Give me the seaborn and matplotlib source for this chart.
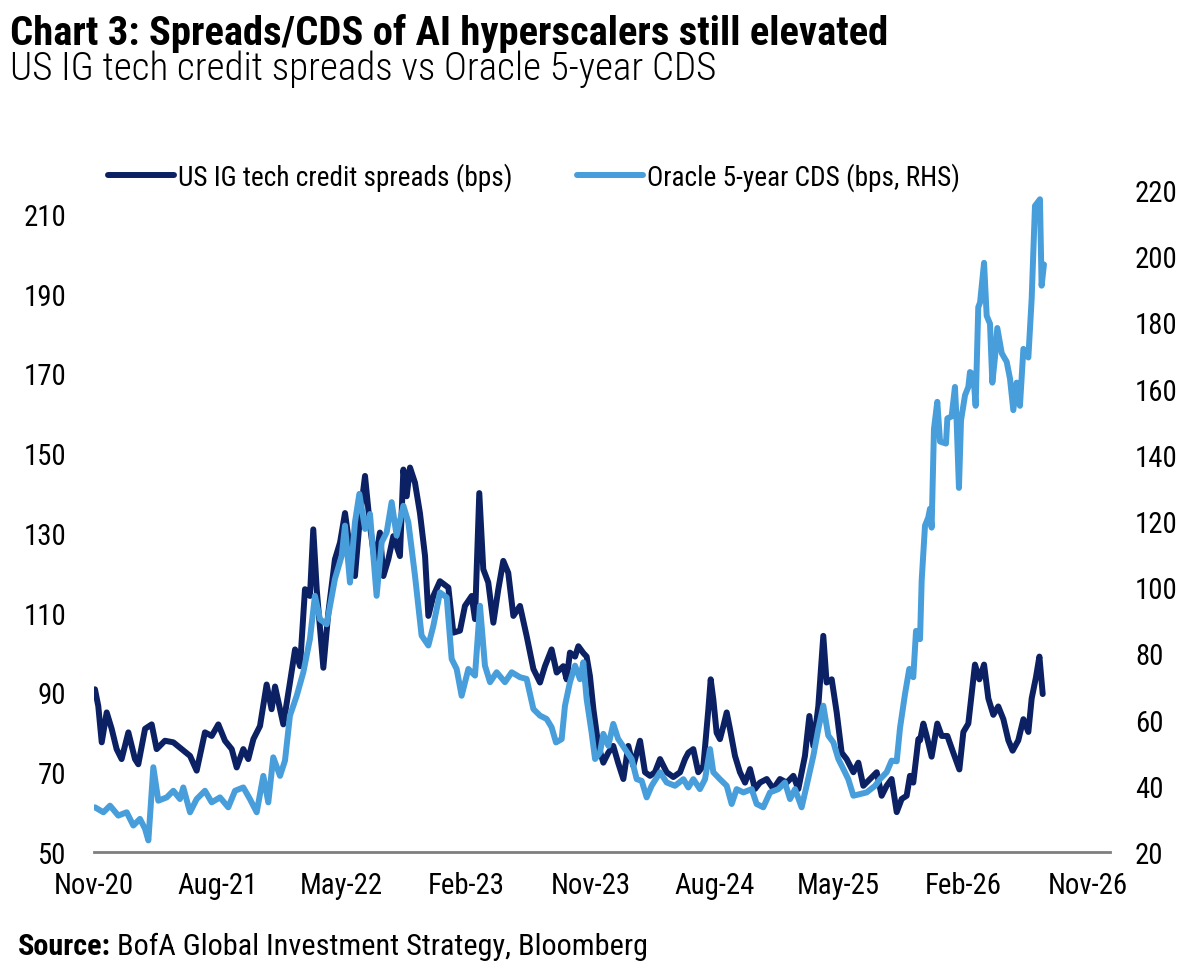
import matplotlib
matplotlib.use('Agg')
import matplotlib.pyplot as plt
import matplotlib.dates as mdates
import matplotlib.font_manager as fm
import seaborn as sns
import pandas as pd
import numpy as np

# months since 1 Nov 2020
ig_months = [0.07, 0.31, 0.56, 0.92, 1.28, 1.64, 2.00, 2.49, 2.97, 3.21,
             3.70, 4.18, 4.54, 5.14, 5.75, 6.35, 6.96, 7.44, 8.04, 8.53,
             9.01, 9.49, 9.98, 10.34, 10.82, 11.18, 11.55, 12.03, 12.51, 12.87,
             13.12, 13.72, 14.20, 14.57, 14.93, 15.29, 15.65, 15.89, 16.14, 16.62,
             16.98, 17.46, 17.83, 18.19, 18.55, 18.91, 19.28, 19.64, 20.00, 20.36,
             20.72, 20.97, 21.33, 21.69, 22.17, 22.42, 22.66, 22.90, 23.26, 23.62,
             23.99, 24.23, 24.59, 25.07, 25.68, 26.04, 26.52, 26.88, 27.37, 27.61,
             27.92, 28.21, 28.57, 28.94, 29.30, 29.66, 30.02, 30.39, 30.87, 31.35,
             31.84, 32.32, 32.68, 33.16, 33.53, 34.01, 34.25, 34.49,
             34.86, 35.10, 35.46, 35.70, 35.94, 36.19, 36.55, 36.91, 37.27, 37.63,
             37.98, 38.36, 38.72, 39.08, 39.57, 39.93, 40.29, 40.65, 41.02, 41.50,
             41.98, 42.47, 42.83, 43.07, 43.43, 43.79, 44.16, 44.52, 44.69, 44.88,
             45.12, 45.36, 45.61, 45.85, 46.09, 46.45, 46.81, 47.18, 47.54, 47.90,
             48.26, 48.75, 49.23, 49.71, 50.20, 50.68, 51.04, 51.52, 51.84, 52.13,
             52.49, 52.85, 53.09, 53.46, 53.82, 54.18, 54.54, 55.03, 55.39, 55.75,
             56.23, 56.72, 57.08, 57.44, 57.80, 58.17, 58.53, 58.89, 59.13, 59.37,
             59.74,
             59.86, 60.10, 60.34, 60.70, 61.11, 61.43, 61.84, 62.27, 62.71, 63.00,
             63.36, 63.60, 63.84, 64.16, 64.50, 64.81, 65.17, 65.53, 65.90, 66.26,
             66.57, 66.98, 67.35, 67.71, 67.95, 68.26, 68.51, 68.75]
ig_spread = [90.8, 86.6, 77.5, 85.0, 80.9, 75.8, 73.3, 80.0, 73.3, 72.0,
             80.9, 82.0, 75.8, 77.9, 77.5, 75.8, 74.1, 70.4, 80.0, 79.1,
             82.0, 77.9, 75.8, 71.2, 75.8, 73.3, 78.3, 81.6, 92.0, 85.8,
             91.5, 82.0, 92.5, 100.8, 96.6, 115.9, 114.2, 130.9, 115.9, 96.2,
             110.0, 123.4, 127.6, 135.0, 125.9, 119.2, 134.2, 144.3, 131.7, 122.6,
             130.1, 119.2, 123.4, 129.2, 124.2, 145.9, 139.2, 146.4, 142.6, 135.0,
             124.2, 109.2, 114.2, 117.9, 116.3, 105.0, 105.5, 111.7, 114.2, 108.4,
             140.0, 120.9, 117.6, 107.5, 115.9, 123.0, 120.0, 109.2, 111.7, 104.2,
             95.9, 92.5, 96.6, 100.8, 95.0, 96.6, 93.3, 100.0,
             99.0, 101.6, 99.9, 99.0, 94.1, 85.8, 76.6, 72.4, 74.9, 76.6,
             72.4, 68.3, 76.6, 71.6, 77.9, 70.0, 69.1, 70.0, 73.3, 70.0,
             68.8, 70.0, 73.3, 74.9, 75.8, 70.0, 71.6, 85.8, 93.3, 88.3,
             79.9, 78.3, 81.6, 85.0, 80.8, 74.1, 70.0, 67.4, 70.8, 65.8,
             67.4, 68.3, 65.8, 68.3, 67.4, 69.1, 65.8, 74.1, 84.1, 76.6,
             86.6, 104.2, 92.5, 93.3, 85.0, 74.9, 73.3, 70.0, 72.4, 66.6,
             68.3, 70.0, 64.1, 66.6, 68.3, 60.0, 63.3, 64.1, 69.1, 67.4,
             78.3,
             78.0, 82.2, 79.1, 73.9, 82.2, 79.1, 79.1, 74.9, 70.7, 80.1,
             82.2, 89.6, 97.0, 93.3, 97.0, 88.5, 84.4, 86.5, 83.3, 78.0,
             75.4, 78.0, 83.3, 80.1, 88.5, 93.8, 99.0, 89.6]

cds_months = [0.07, 0.68, 1.16, 1.76, 2.37, 2.85, 3.33, 3.70, 3.94, 4.30,
              4.66, 5.27, 5.75, 6.23, 6.47, 6.96, 7.44, 8.04, 8.53, 9.13,
              9.73, 10.22, 10.82, 11.30, 11.79, 12.27, 12.63, 12.99, 13.48, 13.84,
              14.20, 14.69, 15.17, 15.65, 16.01, 16.38, 16.86, 17.46, 17.95, 18.19,
              18.55, 18.91, 19.23, 19.64, 20.00, 20.48, 20.85, 21.21, 21.57, 21.93,
              22.42, 22.78, 23.26, 23.74, 24.23, 24.59, 25.07, 25.56, 25.92, 26.28,
              26.64, 27.13, 27.61, 27.97, 28.33, 28.70, 29.18, 29.78, 30.27, 30.87,
              31.35, 31.84, 32.32, 32.80, 33.16, 33.48, 33.89, 34.13, 34.49,
              34.86, 35.22, 35.46, 35.70, 36.06, 36.31, 36.67, 36.91, 37.27, 37.63,
              37.98, 38.48, 38.96, 39.33, 39.69, 40.05, 40.41, 41.02, 41.50, 42.10,
              42.71, 43.07, 43.43, 43.91, 44.28, 44.64, 44.88, 45.36, 45.85, 46.21,
              46.57, 47.06, 47.66, 48.02, 48.50, 48.99, 49.59, 50.07, 50.44, 50.80,
              51.28, 51.64, 52.13, 52.49, 52.85, 53.21, 53.58, 53.94, 54.30, 54.66,
              55.03, 55.51, 55.99, 56.60, 56.96, 57.44, 57.80,
              58.17, 58.41, 58.77, 59.08, 59.37, 59.57, 59.86, 59.98, 60.22, 60.46,
              60.58, 60.70, 60.87, 61.11, 61.31, 61.74, 61.84, 62.15, 62.39, 62.51,
              62.68, 62.83, 63.12, 63.36, 63.48, 63.72, 63.89, 64.08, 64.21, 64.50,
              64.69, 64.93, 65.10, 65.29, 65.46, 65.78, 66.14, 66.38, 66.62, 66.86,
              67.10, 67.35, 67.71, 67.95, 68.19, 68.43, 68.55, 68.67, 68.84]
oracle_cds = [33.5, 32.0, 34.0, 31.0, 32.0, 28.0, 30.0, 27.0, 23.5, 45.6,
              35.5, 36.5, 38.5, 36.0, 39.5, 32.0, 36.0, 38.5, 35.0, 36.5,
              33.5, 38.5, 39.5, 36.0, 32.0, 43.0, 35.0, 48.6, 43.0, 47.6,
              61.2, 67.2, 74.3, 84.4, 97.4, 90.3, 88.8, 102.5, 109.5, 118.6,
              101.4, 119.6, 128.2, 117.6, 122.1, 97.4, 113.6, 116.6, 125.7, 115.6,
              124.6, 119.6, 103.5, 85.4, 82.4, 88.3, 98.4, 96.9, 78.3, 75.3,
              67.2, 75.3, 73.3, 94.4, 76.3, 71.3, 74.3, 71.3, 74.3, 72.8,
              72.3, 63.2, 61.2, 60.2, 57.7, 53.1, 54.1, 64.2, 71.3,
              76.3, 72.2, 77.3, 66.2, 56.1, 48.1, 50.1, 55.7, 52.1, 58.7,
              54.2, 51.1, 48.1, 42.0, 41.5, 36.5, 40.0, 44.1, 41.0, 40.0,
              42.0, 39.5, 42.0, 39.0, 42.0, 51.1, 44.1, 42.0, 40.0, 34.5,
              39.0, 38.0, 39.0, 34.5, 33.5, 38.0, 39.0, 41.0, 36.0, 39.0,
              33.5, 40.0, 49.1, 57.2, 64.2, 55.2, 53.1, 48.1, 45.1, 42.0,
              37.0, 37.5, 38.0, 40.0, 42.0, 44.1, 47.6,
              47.4, 57.5, 67.7, 75.3, 72.8, 86.8, 84.3, 102.1, 118.6, 121.1,
              123.7, 118.0, 147.8, 156.0, 144.0, 143.4, 151.0, 151.6, 160.5, 150.4,
              130.0, 150.4, 158.0, 160.5, 165.0, 164.3, 154.8, 184.6, 186.0, 198.0,
              182.0, 179.6, 161.8, 169.4, 178.3, 170.7, 168.1, 163.0, 153.5, 161.8,
              154.8, 172.0, 169.4, 187.2, 215.2, 216.5, 217.2, 191.1, 197.5]

left_ticks = [50, 70, 90, 110, 130, 150, 170, 190, 210]
right_ticks = [20, 40, 60, 80, 100, 120, 140, 160, 180, 200, 220]

title = 'Chart 3: Spreads/CDS of AI hyperscalers still elevated'
subtitle = 'US IG tech credit spreads vs Oracle 5-year CDS'
ig_label = 'US IG tech credit spreads (bps)'
cds_label = 'Oracle 5-year CDS (bps, RHS)'
source_head = 'Source:'
source_body = 'BofA Global Investment Strategy, Bloomberg'

DARK = '#0B2163'
LIGHT = '#479EDA'

start = pd.Timestamp('2020-11-01')
ig = pd.DataFrame({'date': start + pd.to_timedelta(np.array(ig_months) * 30.4375, unit='D'),
                   'value': ig_spread})
cds = pd.DataFrame({'date': start + pd.to_timedelta(np.array(cds_months) * 30.4375, unit='D'),
                    'value': oracle_cds})

sns.set_theme(style='white')

# the reference uses a condensed sans; take one if the machine has it
family, stretch = 'DejaVu Sans', 'normal'
names = {f.name: f.stretch for f in fm.fontManager.ttflist}
for cand in ['Liberation Sans Narrow', 'Roboto Condensed', 'Open Sans Condensed',
             'Noto Sans Condensed', 'DejaVu Sans Condensed']:
    if cand in names:
        family = cand
        break
else:
    for f in fm.fontManager.ttflist:
        if f.name in ('Noto Sans', 'DejaVu Sans', 'Open Sans', 'Roboto') and f.stretch in ('condensed', 'semi-condensed'):
            family, stretch = f.name, f.stretch
            break

plt.rcParams['font.family'] = [family, 'DejaVu Sans']
plt.rcParams['font.stretch'] = stretch
for k in ['text.color', 'axes.labelcolor', 'xtick.color', 'ytick.color']:
    plt.rcParams[k] = 'black'

fig = plt.figure(figsize=(11.99, 9.78), dpi=100)
renderer = fig.canvas.get_renderer()


def width_of(s, size, weight='normal'):
    t = fig.text(0, 0, s, fontsize=size, fontweight=weight)
    w = t.get_window_extent(renderer).width
    t.remove()
    return w


# font sizes chosen so widths match the reference
tick_size = 21 * 80 / width_of('Nov-20', 21)
title_size = 25 * 879 / width_of(title, 25, 'bold')
sub_size = 26 * 708 / width_of(subtitle, 26, 'light')
leg_size = 21 * 333 / width_of(ig_label, 21)
src_size = 21 * 630 / (width_of(source_head, 21, 'bold') + width_of(source_body, 21) + 6)

ax = fig.add_axes([94 / 1199, 125 / 978, 1016 / 1199, 662 / 978])
ax2 = ax.twinx()

sns.lineplot(data=ig, x='date', y='value', ax=ax, color=DARK, lw=4.3, label=ig_label, legend=False)
sns.lineplot(data=cds, x='date', y='value', ax=ax2, color=LIGHT, lw=4.3, label=cds_label, legend=False)

ax.set_ylim(50, 216)
ax.set_yticks(left_ticks)
ax2.set_ylim(20, 220)
ax2.set_yticks(right_ticks)
ax.set_xlim(start, start + pd.Timedelta(days=2241))
ax.set_xticks(pd.date_range('2020-11-01', '2026-11-01', freq='9MS'))
ax.xaxis.set_major_formatter(mdates.DateFormatter('%b-%y'))

for a in (ax, ax2):
    a.set_xlabel('')
    a.set_ylabel('')
    for s in a.spines.values():
        s.set_visible(False)
    a.tick_params(length=0, labelsize=tick_size, colors='black')
ax.spines['bottom'].set_visible(True)
ax.spines['bottom'].set_color('#7f7f7f')
ax.spines['bottom'].set_linewidth(2)
ax.tick_params(axis='y', pad=20)
ax.tick_params(axis='x', pad=14)
ax2.tick_params(axis='y', pad=18)

h1, l1 = ax.get_legend_handles_labels()
h2, l2 = ax2.get_legend_handles_labels()
fig.legend(h1 + h2, l1 + l2, loc='center left', bbox_to_anchor=(108 / 1199, 1 - 178 / 978),
           ncol=2, frameon=False, fontsize=leg_size, handlelength=66 / (leg_size * 100 / 72),
           handletextpad=0.15, columnspacing=64 / (leg_size * 100 / 72),
           borderpad=0, borderaxespad=0)

fig.text(10 / 1199, 1 - 45 / 978, title, fontsize=title_size, fontweight='bold', va='baseline')
fig.text(10 / 1199, 1 - 80 / 978, subtitle, fontsize=sub_size, fontweight='light', va='baseline')

src = fig.text(18 / 1199, 1 - 955 / 978, source_head, fontsize=src_size, fontweight='bold', va='baseline')
bb = src.get_window_extent(renderer)
fig.text((bb.x1 + 6) / 1199, 1 - 955 / 978, source_body, fontsize=src_size, va='baseline')

fig.savefig('out.png', dpi=100)
